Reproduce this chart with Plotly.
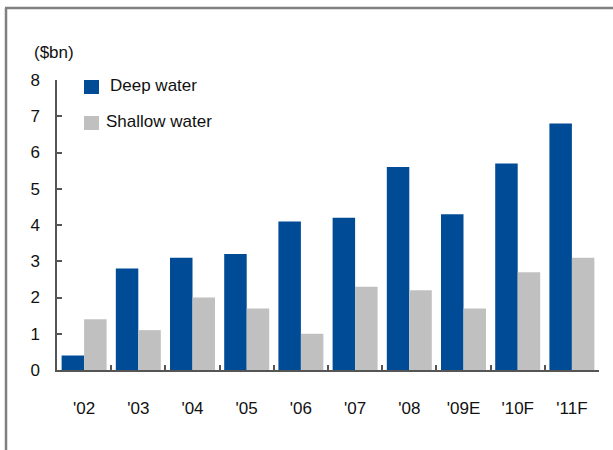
import plotly.graph_objects as go

years = ["'02", "'03", "'04", "'05", "'06", "'07", "'08", "'09E", "'10F", "'11F"]
deep_water = [0.4, 2.8, 3.1, 3.2, 4.1, 4.2, 5.6, 4.3, 5.7, 6.8]
shallow_water = [1.4, 1.1, 2.0, 1.7, 1.0, 2.3, 2.2, 1.7, 2.7, 3.1]
y_ticks = [0, 1, 2, 3, 4, 5, 6, 7, 8]

DEEP = "#004B96"
SHALLOW = "#C0C0C0"
FONT = "Liberation Sans, Arial, sans-serif"
FS = 17

W, H = 613, 450
L, R, T, B = 57, 14, 80, 80
PW, PH = W - L - R, H - T - B


def px(x):
    return (x - L) / PW


def py(y):
    return (H - B - y) / PH


fig = go.Figure()
fig.add_bar(x=years, y=deep_water, name="Deep water", marker_color=DEEP,
            marker_line_width=0, showlegend=False)
fig.add_bar(x=years, y=shallow_water, name="Shallow water", marker_color=SHALLOW,
            marker_line_width=0, showlegend=False)

shapes = [
    # outer frame (top and left edges)
    dict(type="line", xref="paper", yref="paper", x0=px(5), x1=px(613), y0=py(8), y1=py(8),
         line=dict(color="#808080", width=2.5)),
    dict(type="line", xref="paper", yref="paper", x0=px(6), x1=px(6), y0=py(8), y1=py(450),
         line=dict(color="#808080", width=2.5)),
    # legend swatches
    dict(type="rect", xref="paper", yref="paper", x0=px(84), x1=px(99), y0=py(80), y1=py(94),
         fillcolor=DEEP, line_width=0),
    dict(type="rect", xref="paper", yref="paper", x0=px(84), x1=px(99), y0=py(116), y1=py(130),
         fillcolor=SHALLOW, line_width=0),
]

annotations = [
    dict(text="Deep water", xref="paper", yref="paper", x=px(108), y=py(85), xanchor="left",
         yanchor="middle", showarrow=False, font=dict(size=FS, color="#111")),
    dict(text="Shallow water", xref="paper", yref="paper", x=px(104), y=py(122), xanchor="left",
         yanchor="middle", showarrow=False, font=dict(size=FS, color="#111")),
    dict(text="($bn)", xref="paper", yref="paper", x=px(32), y=py(52), xanchor="left",
         yanchor="middle", showarrow=False, font=dict(size=FS, color="#111")),
]

fig.update_layout(
    width=W, height=H,
    margin=dict(l=L, r=R, t=T, b=B, pad=0),
    paper_bgcolor="white", plot_bgcolor="white",
    barmode="group", bargap=0.17, bargroupgap=0,
    font=dict(family=FONT, size=FS, color="#111"),
    shapes=shapes, annotations=annotations,
    showlegend=False,
)
fig.update_xaxes(
    type="category", range=[-0.5, 9.5], showgrid=False,
    showline=True, linecolor="#555", linewidth=1.5,
    ticks="inside", tickson="boundaries", ticklen=5, tickcolor="#555", tickwidth=1.5,
    ticklabelstandoff=22,
)
fig.update_yaxes(
    range=[0, 8], tickvals=y_ticks, showgrid=False, zeroline=False,
    showline=True, linecolor="#555", linewidth=1.5,
    ticks="inside", ticklen=5, tickcolor="#555", tickwidth=1.5,
    ticklabelstandoff=12,
)

fig.write_html("out.html")
